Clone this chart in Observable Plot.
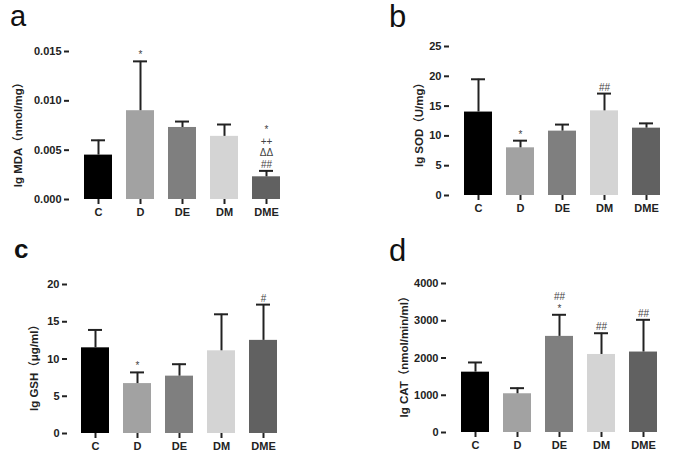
<!DOCTYPE html>
<html>
<head>
<meta charset="utf-8">
<script src="https://cdn.jsdelivr.net/npm/d3@7"></script>
<script src="https://cdn.jsdelivr.net/npm/@observablehq/plot@0.6"></script>
<style>
  html, body { margin: 0; padding: 0; background: #fff; }
  #root { position: relative; width: 685px; height: 468px; overflow: hidden; background: #fff; }
  .panel { position: absolute; }
  .letter { position: absolute; font-family: "Liberation Sans", Arial, sans-serif; color: #111; line-height: 1.117; }
  .ylab { position: absolute; white-space: nowrap; font-family: "Liberation Sans", "Noto Sans CJK SC", sans-serif;
          font-weight: bold; font-size: 11.5px; color: #222; transform: translate(-50%, -50%) rotate(-90deg); }
</style>
</head>
<body>
<div id="root"></div>
<script>
// ---- data ----
const groups = ["C", "D", "DE", "DM", "DME"];
const barColors = ["#000000", "#a2a2a2", "#7f7f7f", "#d4d4d4", "#616161"];

const mdaMean = [0.0045, 0.0090, 0.0073, 0.0064, 0.0023];
const mdaSD   = [0.0015, 0.0050, 0.0006, 0.0012, 0.0006];
const mdaSig  = ["", "*", "", "", "*\n++\nΔΔ\n##"];
const mdaTicks = [0, 0.005, 0.010, 0.015];

const sodMean = [14.0, 8.0, 10.8, 14.2, 11.3];
const sodSD   = [5.5, 1.2, 1.1, 2.9, 0.8];
const sodSig  = ["", "*", "", "##", ""];
const sodTicks = [0, 5, 10, 15, 20, 25];

const gshMean = [11.5, 6.7, 7.7, 11.1, 12.5];
const gshSD   = [2.4, 1.5, 1.6, 4.9, 4.8];
const gshSig  = ["", "*", "", "", "#"];
const gshTicks = [0, 5, 10, 15, 20];

const catMean = [1620, 1040, 2580, 2095, 2160];
const catSD   = [260, 150, 580, 570, 865];
const catSig  = ["", "", "##\n*", "##", "##"];
const catTicks = [0, 1000, 2000, 3000, 4000];

const panelLetters = ["a", "b", "c", "d"];
const yLabels = ["lg MDA（nmol/mg）", "lg SOD（U/mg）", "lg GSH（μg/ml）", "lg CAT（nmol/min/ml）"];

// ---- drawing ----
function makePanel({mean, sd, sig, ticks, fmt, w, h, ml, mr, mt, mb}) {
  const data = groups.map((g, i) => ({g, m: mean[i], top: mean[i] + sd[i], s: sig[i]}));
  return Plot.plot({
    width: w, height: h,
    marginLeft: ml, marginRight: mr, marginTop: mt, marginBottom: mb,
    style: {fontFamily: "Liberation Sans, Arial, sans-serif", fontSize: "11px", fontWeight: "bold", color: "#222", background: "transparent", overflow: "visible"},
    x: {domain: groups, padding: 0.333, axis: null},
    y: {domain: [ticks[0], ticks[ticks.length - 1]], axis: null},
    color: {domain: groups, range: barColors},
    marks: [
      Plot.barY(data, {x: "g", y: "m", fill: "g"}),
      Plot.ruleX(data, {x: "g", y1: "m", y2: "top", stroke: "#222", strokeWidth: 2}),
      Plot.tickY(data, {x: "g", y: "top", stroke: "#222", strokeWidth: 2, insetLeft: 7, insetRight: 7}),
      Plot.text(data, {x: "g", y: "top", text: "s", lineAnchor: "bottom", dy: -3, fontSize: 10, fontWeight: "normal", fill: "#444", lineHeight: 1.15}),
      Plot.axisY({ticks, tickFormat: fmt, tickSize: 5, tickPadding: 3, strokeWidth: 2, line: true, label: null}),
      Plot.axisX({tickSize: 5, tickPadding: 4, strokeWidth: 2, line: true, label: null})
    ]
  });
}

const root = document.getElementById("root");
const specs = [
  {left: 0,   top: 0,   mean: mdaMean, sd: mdaSD, sig: mdaSig, ticks: mdaTicks, fmt: d3.format(".3f"), w: 342, h: 234, ml: 69,  mr: 46, mt: 51, mb: 35,
   letter: {x: 10, y: 0, size: 29, weight: 400}, lab: {x: 17, y: 132}},
  {left: 342, top: 0,   mean: sodMean, sd: sodSD, sig: sodSig, ticks: sodTicks, fmt: d3.format("d"), w: 343, h: 234, ml: 107, mr: 9,  mt: 46, mb: 39,
   letter: {x: 389, y: 0, size: 31, weight: 400}, lab: {x: 418, y: 122}},
  {left: 0,   top: 234, mean: gshMean, sd: gshSD, sig: gshSig, ticks: gshTicks, fmt: d3.format("d"), w: 342, h: 234, ml: 67,  mr: 50, mt: 50, mb: 35,
   letter: {x: 14, y: 235, size: 26, weight: 700}, lab: {x: 33, y: 365}},
  {left: 342, top: 234, mean: catMean, sd: catSD, sig: catSig, ticks: catTicks, fmt: d3.format("d"), w: 343, h: 234, ml: 104, mr: 13, mt: 49, mb: 36,
   letter: {x: 389, y: 234, size: 31, weight: 400}, lab: {x: 403, y: 354}}
];

specs.forEach((s, i) => {
  const div = document.createElement("div");
  div.className = "panel";
  div.style.left = s.left + "px";
  div.style.top = s.top + "px";
  div.appendChild(makePanel(s));
  root.appendChild(div);

  const L = document.createElement("div");
  L.className = "letter";
  L.textContent = panelLetters[i];
  L.style.left = s.letter.x + "px";
  L.style.top = s.letter.y + "px";
  L.style.fontSize = s.letter.size + "px";
  L.style.fontWeight = s.letter.weight;
  root.appendChild(L);

  const Y = document.createElement("div");
  Y.className = "ylab";
  Y.textContent = yLabels[i];
  Y.style.left = s.lab.x + "px";
  Y.style.top = s.lab.y + "px";
  root.appendChild(Y);
});
</script>
</body>
</html>
